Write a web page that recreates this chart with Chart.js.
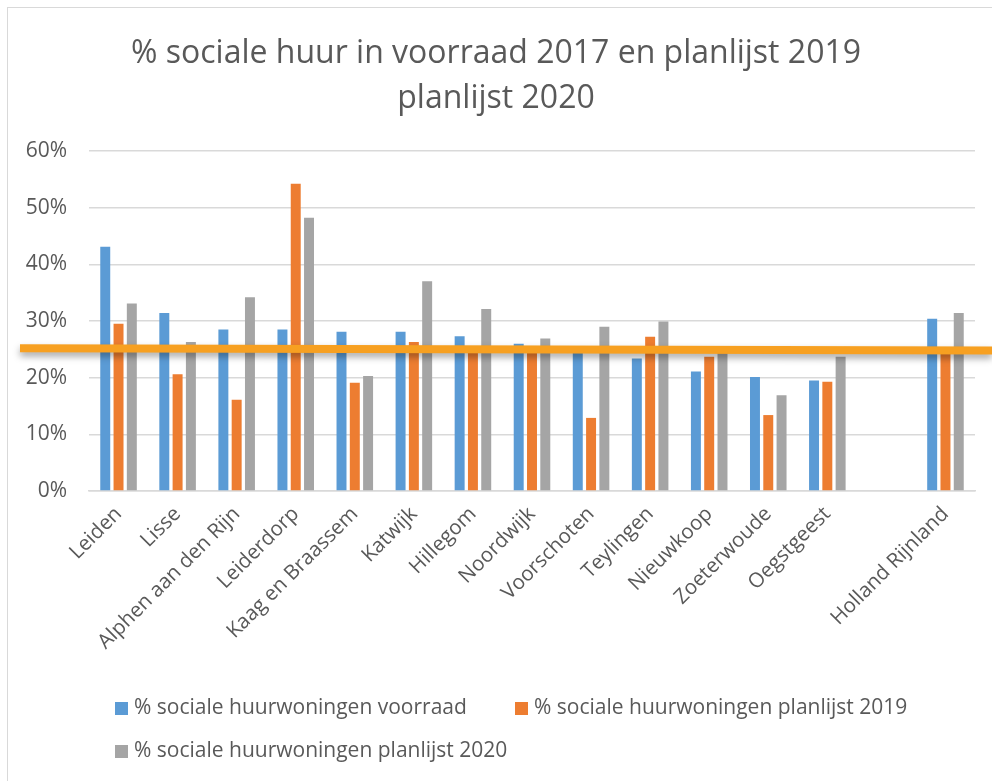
<!DOCTYPE html>
<html>
<head>
<meta charset="utf-8">
<script src="https://cdn.jsdelivr.net/npm/chart.js@4.4.1/dist/chart.umd.min.js"></script>
<style>
  html, body { margin: 0; padding: 0; background: #fff; }
  #wrap { position: relative; width: 992px; height: 781px; overflow: hidden; background: #fff; }
  #frame { position: absolute; left: 7px; top: 7px; right: -10px; bottom: -10px;
           border-left: 1.5px solid #d9d9d9; border-top: 1.5px solid #d9d9d9; pointer-events: none; }
  canvas { position: absolute; left: 0; top: 0; }
  .lg { position: absolute; font-family: 'Open Sans', sans-serif; font-size: 21px; color: #595959;
        white-space: nowrap; line-height: 26px; }
  .lg i { display: inline-block; width: 13px; height: 13px; margin-right: 6px; vertical-align: -1px; }
</style>
</head>
<body>
<div id="wrap">
  <canvas id="c" width="992" height="781"></canvas>
  <div id="frame"></div>
  <div id="legend"></div>
</div>
<script>
const titleLines = ['% sociale huur in voorraad 2017 en planlijst 2019', 'planlijst 2020'];
const categories = ['Leiden','Lisse','Alphen aan den Rijn','Leiderdorp','Kaag en Braassem','Katwijk','Hillegom','Noordwijk','Voorschoten','Teylingen','Nieuwkoop','Zoeterwoude','Oegstgeest','','Holland Rijnland'];
const seriesNames = ['% sociale huurwoningen voorraad','% sociale huurwoningen planlijst 2019','% sociale huurwoningen planlijst 2020'];
const voorraad      = [43.1, 31.4, 28.5, 28.5, 28.1, 28.1, 27.3, 26.0, 24.5, 23.4, 21.1, 20.1, 19.5, null, 30.4];
const planlijst2019 = [29.5, 20.6, 16.1, 54.2, 19.1, 26.3, 25.0, 25.0, 12.9, 27.2, 23.7, 13.4, 19.3, null, 25.0];
const planlijst2020 = [33.1, 26.3, 34.2, 48.2, 20.3, 37.0, 32.1, 26.9, 29.0, 29.9, 25.6, 16.9, 23.7, null, 31.4];
const yTicks = [0, 10, 20, 30, 40, 50, 60];
const refLine = [25.2, 24.8]; // hand-drawn marker line: value at left end, value at right end
const colors = ['#5B9BD5', '#ED7D31', '#A5A5A5'];

const textColor = '#595959';
const gridColor = '#d9d9d9';

const refLinePlugin = {
  id: 'refLine',
  afterDraw(chart) {
    const y = chart.scales.y;
    const ctx = chart.ctx;
    const x0 = 20, x1 = chart.width;
    const y0 = y.getPixelForValue(refLine[0]);
    const y1 = y.getPixelForValue(refLine[1]);
    ctx.save();
    ctx.strokeStyle = '#F7A021';
    ctx.lineWidth = 8;
    ctx.shadowColor = 'rgba(0,0,0,0.35)';
    ctx.shadowBlur = 7;
    ctx.shadowOffsetY = 4;
    ctx.beginPath();
    ctx.moveTo(x0, y0);
    ctx.lineTo(x1, y1);
    ctx.stroke();
    ctx.restore();
  }
};

new Chart(document.getElementById('c'), {
  type: 'bar',
  data: {
    labels: categories,
    datasets: [
      { label: seriesNames[0], data: voorraad, backgroundColor: colors[0] },
      { label: seriesNames[1], data: planlijst2019, backgroundColor: colors[1] },
      { label: seriesNames[2], data: planlijst2020, backgroundColor: colors[2] }
    ]
  },
  options: {
    responsive: false,
    animation: false,
    events: [],
    datasets: { bar: { categoryPercentage: 0.675, barPercentage: 0.75 } },
    layout: { padding: { left: 17, right: 17, top: 0, bottom: 0 } },
    plugins: {
      legend: { display: false },
      tooltip: { enabled: false },
      title: {
        display: true,
        text: titleLines,
        color: textColor,
        font: { family: "'Open Sans', sans-serif", size: 32, weight: 'normal', lineHeight: '45px' },
        padding: { top: 31.5, bottom: 29.5 }
      }
    },
    scales: {
      x: {
        grid: { display: false, drawTicks: false },
        border: { display: true, color: gridColor, width: 1.5 },
        ticks: {
          color: textColor,
          font: { family: "'Open Sans', sans-serif", size: 20.5 },
          maxRotation: 45, minRotation: 45, autoSkip: false, padding: 11
        },
        afterFit(s) { s.height = 290; }
      },
      y: {
        min: 0, max: 60,
        grid: { color: gridColor, lineWidth: 1.5, drawTicks: false },
        border: { display: false },
        afterBuildTicks(s) { s.ticks = yTicks.map(v => ({ value: v })); },
        ticks: {
          color: textColor,
          font: { family: "'Open Sans', sans-serif", size: 21 },
          padding: 22,
          callback: v => v + '%'
        },
        afterFit(s) { s.width = 72; }
      }
    }
  },
  plugins: [refLinePlugin]
});

// legend (HTML), laid out like the original
const legendPos = [[115, 693], [515, 693], [115, 736]];
const lg = document.getElementById('legend');
seriesNames.forEach((name, i) => {
  const d = document.createElement('div');
  d.className = 'lg';
  d.style.left = legendPos[i][0] + 'px';
  d.style.top = legendPos[i][1] + 'px';
  d.innerHTML = '<i style="background:' + colors[i] + '"></i>' + name;
  lg.appendChild(d);
});
</script>
</body>
</html>
